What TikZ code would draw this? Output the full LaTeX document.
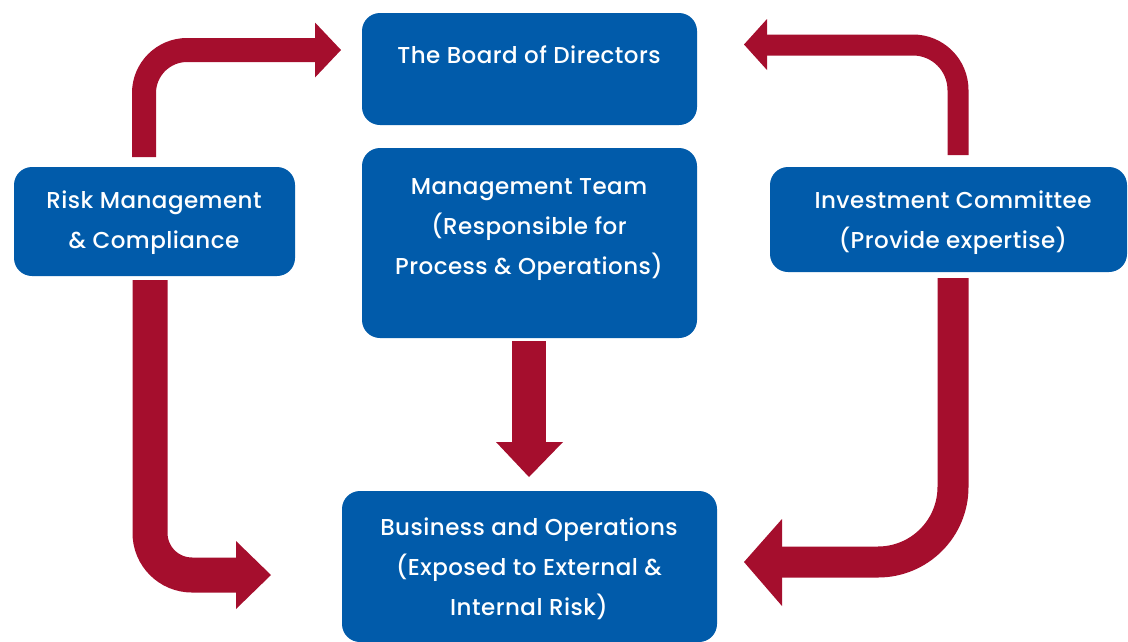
\documentclass[tikz,border=0pt]{standalone}
\usepackage{fontspec}
\setmainfont{Poppins}[UprightFont=* Medium,LetterSpace=2]
\definecolor{boxblue}{HTML}{015BAA}
\definecolor{arrred}{HTML}{A50E2D}
\begin{document}
\begin{tikzpicture}[x=1pt,y=-1pt,
  box/.style={fill=boxblue,rounded corners=18pt,draw=none},
  lbl/.style={text=white,align=center,font=\fontsize{23}{40}\selectfont,inner sep=0pt},
  shaft/.style={draw=arrred,line cap=butt},
  head/.style={fill=arrred,draw=none}]
\useasboundingbox (0,0) rectangle (1128,641);
\clip (0,0) rectangle (1128,641);
% boxes
\fill[box] (362,13) rectangle (697,125);
\fill[box] (362,148) rectangle (697,338);
\fill[box] (342,491) rectangle (717,642);
\fill[box] (14,167) rectangle (295,276);
\fill[box] (770,167) rectangle (1127,272);
% texts
\node[lbl] (board) at (529,55) {The Board of Directors};
\node[lbl] (mgmt) at (529,230) {Management Team\\(Responsible for\\Process \& Operations)};
\node[lbl] (biz) at (529,569) {Business and Operations\\(Exposed to External \&\\Internal Risk)};
\node[lbl] (risk) at (154,223) {Risk Management\\\& Compliance};
\node[lbl] (inv) at (953,223) {Investment Committee\\(Provide expertise)};
% top-left arrow
\draw[shaft,line width=24pt,rounded corners=43pt] (144,157) -- (144,50) -- (316,50);
\fill[head] (315,22.5) -- (341,50) -- (315,77.5) -- cycle;
% bottom-left arrow
\draw[shaft,line width=35pt,rounded corners=42pt] (150,280) -- (150,575) -- (237,575);
\fill[head] (236,541) -- (271,575) -- (236,609) -- cycle;
% top-right arrow
\draw[shaft,line width=21pt,rounded corners=45pt] (958,155) -- (958,45) -- (766,45);
\fill[head] (767,19) -- (744,44.5) -- (767,70) -- cycle;
% bottom-right arrow
\draw[shaft,line width=31pt,rounded corners=75pt] (953,278) -- (953,562) -- (781,562);
\fill[head] (782,519) -- (744,562) -- (782,606) -- cycle;
% middle arrow
\fill[arrred] (512,341) rectangle (546,443);
\fill[head] (496,442) -- (529,477) -- (563,442) -- cycle;
\end{tikzpicture}
\end{document}
